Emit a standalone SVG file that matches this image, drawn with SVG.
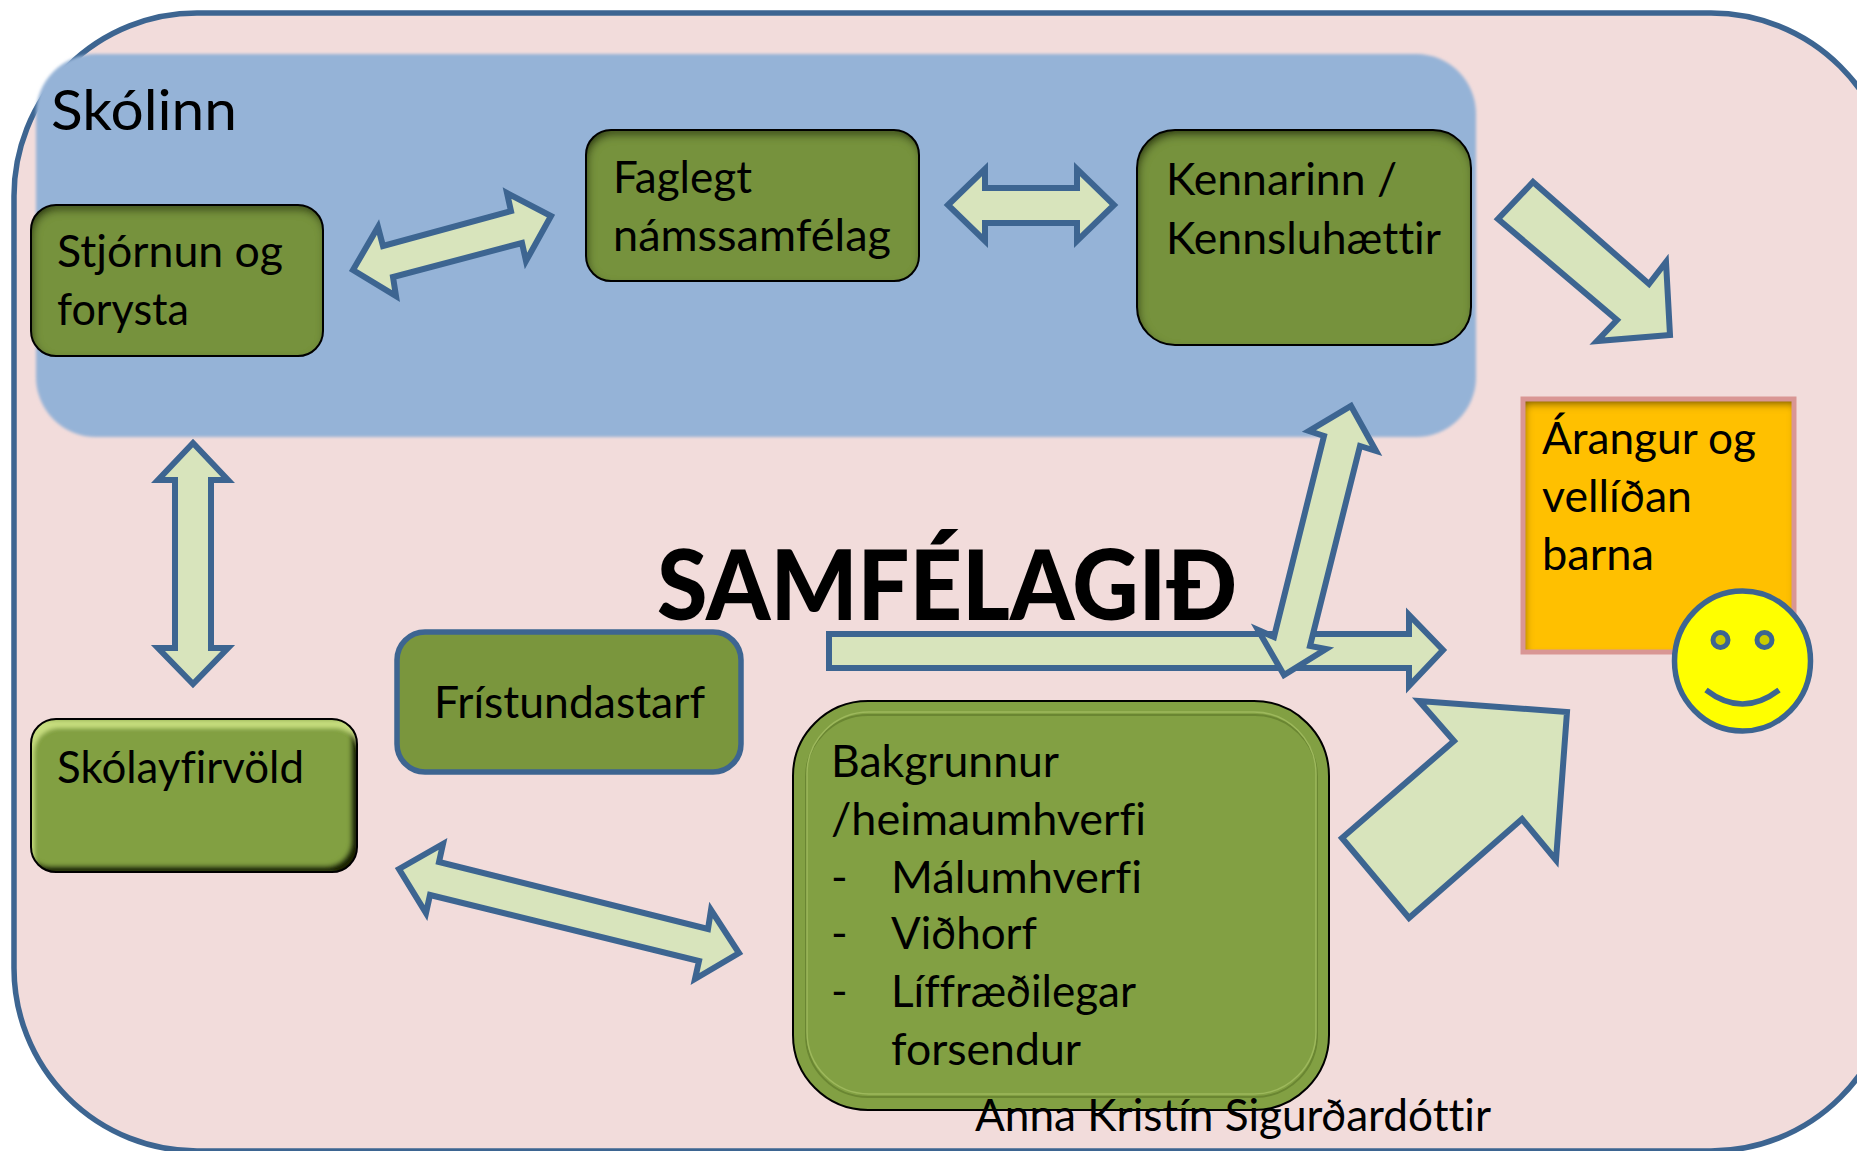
<svg xmlns="http://www.w3.org/2000/svg" width="1857" height="1151" viewBox="0 0 1857 1151">
<style>
text{font-family:"Lato","Carlito","Liberation Sans",sans-serif;fill:#000;font-size:45px;font-variant-ligatures:none}
.green{fill:#76923c}
.line{fill:none;stroke:#000;stroke-width:2}
.arrow{fill:#d8e4bc;stroke:#3d6591;stroke-width:6;stroke-linejoin:miter;stroke-miterlimit:8}
</style>
<defs>
<filter id="soft" x="-5%" y="-5%" width="110%" height="110%"><feGaussianBlur stdDeviation="1.6"/></filter>
<filter id="inset" x="-5%" y="-5%" width="110%" height="110%">
<feComponentTransfer in="SourceAlpha" result="inv"><feFuncA type="table" tableValues="1 0"/></feComponentTransfer>
<feGaussianBlur in="inv" stdDeviation="4"/><feOffset dx="2" dy="5" result="o"/>
<feFlood flood-color="#000" flood-opacity=".9"/><feComposite in2="o" operator="in"/><feComposite in2="SourceAlpha" operator="in" result="s"/>
<feMerge><feMergeNode in="SourceGraphic"/><feMergeNode in="s"/></feMerge>
</filter>
<filter id="bevel" x="-5%" y="-5%" width="110%" height="110%">
<feComponentTransfer in="SourceAlpha" result="inv"><feFuncA type="table" tableValues="1 0"/></feComponentTransfer>
<feGaussianBlur in="inv" stdDeviation="2" result="b"/>
<feOffset in="b" dx="-6" dy="-6" result="o1"/><feFlood flood-color="#000" flood-opacity=".95"/><feComposite in2="o1" operator="in"/><feComposite in2="SourceAlpha" operator="in" result="dark"/>
<feOffset in="b" dx="3" dy="9" result="o2"/><feFlood flood-color="#c6dd7e"/><feComposite in2="o2" operator="in"/><feComposite in2="SourceAlpha" operator="in" result="light"/>
<feMerge><feMergeNode in="SourceGraphic"/><feMergeNode in="dark"/><feMergeNode in="light"/></feMerge>
</filter>
</defs>
<g id="samfelagid-bg"><rect x="14" y="13" width="1880" height="1138" rx="183" ry="183" fill="#f2dcdb" stroke="#3d6591" stroke-width="5.5"/></g>
<g id="skolinn-bg"><rect x="36" y="54" width="1440" height="383" rx="60" ry="60" fill="#95b3d7" filter="url(#soft)"/></g>
<g id="skolinn-label"><text x="51" y="130" style="font-size:56px" textLength="186" lengthAdjust="spacingAndGlyphs">Skólinn</text></g>
<g id="stjornun"><rect x="31" y="205" width="292" height="151" rx="25" class="green" filter="url(#inset)"/><rect x="31" y="205" width="292" height="151" rx="25" class="line"/>
<text x="57" y="267" textLength="226" lengthAdjust="spacingAndGlyphs">Stjórnun og</text><text x="57" y="325" textLength="132" lengthAdjust="spacingAndGlyphs">forysta</text></g>
<g id="faglegt"><rect x="586" y="130" width="333" height="151" rx="25" class="green" filter="url(#inset)"/><rect x="586" y="130" width="333" height="151" rx="25" class="line"/>
<text x="613" y="193" textLength="139" lengthAdjust="spacingAndGlyphs">Faglegt</text><text x="613" y="251" textLength="278" lengthAdjust="spacingAndGlyphs">námssamfélag</text></g>
<g id="kennarinn"><rect x="1137" y="130" width="334" height="215" rx="38" class="green" filter="url(#inset)"/><rect x="1137" y="130" width="334" height="215" rx="38" class="line"/>
<text x="1166" y="195" textLength="231" lengthAdjust="spacingAndGlyphs">Kennarinn /</text><text x="1166" y="254" textLength="275" lengthAdjust="spacingAndGlyphs">Kennsluhættir</text></g>
<g id="arangur"><rect x="1523" y="399" width="271" height="253" fill="#ffc000" filter="url(#inset)"/><rect x="1523" y="399" width="271" height="253" fill="none" stroke="#d99694" stroke-width="5"/>
<text x="1542" y="454" textLength="214" lengthAdjust="spacingAndGlyphs">Árangur og</text><text x="1542" y="512" textLength="150" lengthAdjust="spacingAndGlyphs">vellíðan</text><text x="1542" y="570" textLength="112" lengthAdjust="spacingAndGlyphs">barna</text></g>
<g id="smiley"><ellipse cx="1742.500" cy="661" rx="68" ry="70" fill="#ff0" stroke="#3d6591" stroke-width="5.5"/>
<circle cx="1720.500" cy="640" r="7.5" fill="#cc0" stroke="#3d6591" stroke-width="5"/><circle cx="1764.500" cy="640" r="7.5" fill="#cc0" stroke="#3d6591" stroke-width="5"/>
<path d="M1706 690Q1742.500 718 1779 690" fill="none" stroke="#3d6591" stroke-width="5.5"/></g>
<g id="skolayfirvold"><rect x="31" y="719" width="326" height="153" rx="25" fill="#82a043" filter="url(#bevel)"/><rect x="31" y="719" width="326" height="153" rx="25" class="line"/>
<text x="57" y="783" textLength="247" lengthAdjust="spacingAndGlyphs">Skólayfirvöld</text></g>
<g id="fristundastarf"><rect x="397" y="632" width="344" height="140" rx="28" fill="#7a963d" stroke="#3d6591" stroke-width="5.5"/>
<text x="434" y="718" textLength="271" lengthAdjust="spacingAndGlyphs">Frístundastarf</text></g>
<g id="bakgrunnur"><rect x="793" y="701" width="536" height="409" rx="75" fill="#82a043" stroke="#000" stroke-width="2"/>
<rect x="806" y="715" width="511" height="382" rx="62" fill="none" stroke="#6a8632" stroke-width="2"/>
<rect x="807" y="712" width="509" height="382" rx="62" fill="none" stroke="#9db85c" stroke-width="1.500"/>
<text x="831" y="777" textLength="228" lengthAdjust="spacingAndGlyphs">Bakgrunnur</text><text x="831" y="835" textLength="315" lengthAdjust="spacingAndGlyphs">/heimaumhverfi</text>
<text x="831" y="893">-</text><text x="891" y="893" textLength="251" lengthAdjust="spacingAndGlyphs">Málumhverfi</text>
<text x="831" y="949">-</text><text x="891" y="949" textLength="146" lengthAdjust="spacingAndGlyphs">Viðhorf</text>
<text x="831" y="1007">-</text><text x="891" y="1007" textLength="245" lengthAdjust="spacingAndGlyphs">Líffræðilegar</text>
<text x="891" y="1065" textLength="190" lengthAdjust="spacingAndGlyphs">forsendur</text></g>
<g id="connectors">
<polygon class="arrow" points="353,270 378,227 383,246 511,211 507,193 551,216 526,261 522,243 393,277 396,296"/>
<polygon class="arrow" points="948,205 985,169 985,188 1077,188 1077,169 1114,205 1077,241 1077,223 985,223 985,241"/>
<polygon class="arrow" points="1533,182 1649,284 1666,262 1670,335 1597,341 1617,320 1498,219"/>
<polygon class="arrow" points="193,443 228,480 211,480 211,648 228,648 193,684 158,648 175,648 175,480 158,480"/>
<polygon class="arrow" points="399,869 443,844 439,862 708,929 711,910 739,953 695,979 699,961 430,895 426,913"/>
<polygon class="arrow" points="829,634 1409,634 1409,615 1443,650 1409,686 1409,668 829,668"/>
<polygon class="arrow" points="1351,406 1376,451 1360,446 1310,646 1326,649 1284,675 1258,630 1274,637 1324,436 1309,431"/>
<polygon class="arrow" points="1419,701 1567,712 1556,860 1522,819 1409,918 1342,838 1454,741"/>
</g>
<g id="labels">
<text x="657" y="620" font-weight="900" style="font-size:98px" textLength="580" lengthAdjust="spacingAndGlyphs">SAMFÉLAGIÐ</text>
<text x="975" y="1131" textLength="516" lengthAdjust="spacingAndGlyphs">Anna Kristín Sigurðardóttir</text>
</g>
</svg>
